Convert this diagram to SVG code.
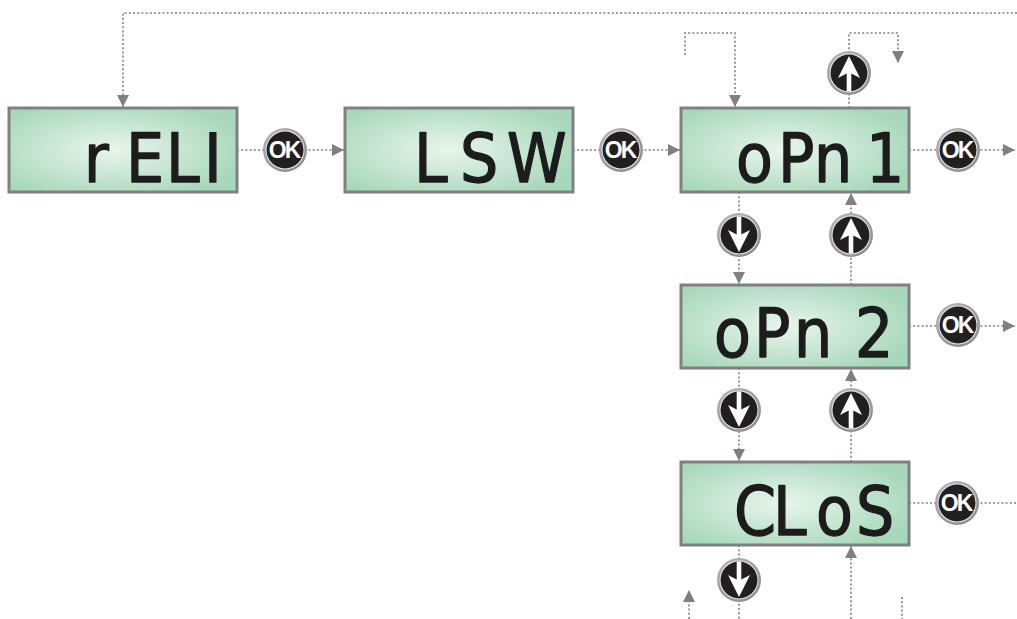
<svg xmlns="http://www.w3.org/2000/svg" xmlns:xlink="http://www.w3.org/1999/xlink" width="1017" height="619" viewBox="0 0 1017 619">
<style>
.lcd{fill:url(#lcdg);stroke:#808080;stroke-width:3}
.seg{font-family:"DejaVu Sans","Liberation Sans",sans-serif;font-stretch:condensed;font-size:67px;fill:#1c1c1c;stroke:#1c1c1c;stroke-width:1.3;stroke-linejoin:round}
.ok{font-family:"Liberation Sans",Arial,sans-serif;font-weight:bold;font-size:23px;fill:#fff;text-anchor:middle;letter-spacing:-2px}
.dl{fill:none;stroke:#808080;stroke-width:1.6;stroke-dasharray:2 2.2}
.ar{fill:#fff}
</style>
<defs>
<radialGradient id="lcdg" cx="0.45" cy="0.5" r="0.6">
<stop offset="0" stop-color="#e9f5ed"/>
<stop offset="1" stop-color="#a8d8bb"/>
</radialGradient>
<radialGradient id="ring" cx="0.4" cy="0.35" r="0.7">
<stop offset="0" stop-color="#cacaca"/>
<stop offset="1" stop-color="#8c8c8c"/>
</radialGradient>
<g id="btn">
<circle r="22" fill="url(#ring)"/>
<circle r="19.4" fill="#ececec"/>
<circle r="18.5" fill="#231f20"/>
</g>
<path id="uparr" d="M0,-17 L11,5 L2.3,0.5 L2.3,18.5 L-2.3,18.5 L-2.3,0.5 L-11,5 Z"/>
<marker id="ah" markerWidth="12" markerHeight="12" viewBox="0 0 12 12" refX="12" refY="6" orient="auto" markerUnits="userSpaceOnUse">
<path d="M0,0 L12,6 L0,12 Z" fill="#808080"/>
</marker>
</defs>
<rect width="1017" height="619" fill="#fff"/>
<g id="connectors">
<path class="dl" d="M1017,13 H123 V107" marker-end="url(#ah)"/>
<path class="dl" d="M237,150 H344" marker-end="url(#ah)"/>
<path class="dl" d="M573,150 H680" marker-end="url(#ah)"/>
<path class="dl" d="M909,150 H1015" marker-end="url(#ah)"/>
<path class="dl" d="M685,55 V33 H735 V107" marker-end="url(#ah)"/>
<path class="dl" d="M849,108 V33 H898 V63" marker-end="url(#ah)"/>
<path class="dl" d="M739,192 V284" marker-end="url(#ah)"/>
<path class="dl" d="M851,285 V193" marker-end="url(#ah)"/>
<path class="dl" d="M739,368 V461" marker-end="url(#ah)"/>
<path class="dl" d="M851,462 V369" marker-end="url(#ah)"/>
<path class="dl" d="M909,326 H1015" marker-end="url(#ah)"/>
<path class="dl" d="M909,503 H1017"/>
<path class="dl" d="M739,545 V619"/>
<path class="dl" d="M851,619 V546" marker-end="url(#ah)"/>
<path class="dl" d="M689,619 V590" marker-end="url(#ah)"/>
<path class="dl" d="M902,597 V619"/>
</g>
<g id="lcd-reli">
<rect class="lcd" x="9" y="108" width="228" height="84"/>
<text class="seg" x="84 126 166 204" y="182">rELI</text>
</g>
<g id="lcd-lsw">
<rect class="lcd" x="345" y="108" width="228" height="84"/>
<text class="seg" x="414 460 507" y="182">LSW</text>
</g>
<g id="lcd-opn1">
<rect class="lcd" x="681" y="108" width="228" height="84"/>
<text class="seg" x="736 778 814 845 866" y="182">oPn 1</text>
</g>
<g id="lcd-opn2">
<rect class="lcd" x="681" y="285" width="228" height="83"/>
<text class="seg" x="714 754 794 830 855" y="357">oPn 2</text>
</g>
<g id="lcd-clos">
<rect class="lcd" x="681" y="462" width="228" height="83"/>
<text class="seg" x="734 773 816 856" y="535">CLoS</text>
</g>
<g id="ok1"><use href="#btn" x="285" y="150"/><text class="ok" x="284" y="158">OK</text></g>
<g id="ok2"><use href="#btn" x="621" y="150"/><text class="ok" x="620" y="158">OK</text></g>
<g id="ok3"><use href="#btn" x="958" y="150"/><text class="ok" x="957" y="158">OK</text></g>
<g id="ok4"><use href="#btn" x="958" y="325"/><text class="ok" x="957" y="333">OK</text></g>
<g id="ok5"><use href="#btn" x="957" y="503"/><text class="ok" x="956" y="511">OK</text></g>
<g id="up-top"><use href="#btn" x="849" y="73"/><use href="#uparr" class="ar" x="849" y="73"/></g>
<g id="down1"><use href="#btn" x="739" y="235"/><g transform="translate(739,235) scale(1,-1)"><use href="#uparr" class="ar"/></g></g>
<g id="up1"><use href="#btn" x="851" y="235"/><use href="#uparr" class="ar" x="851" y="235"/></g>
<g id="down2"><use href="#btn" x="739" y="410"/><g transform="translate(739,410) scale(1,-1)"><use href="#uparr" class="ar"/></g></g>
<g id="up2"><use href="#btn" x="851" y="410"/><use href="#uparr" class="ar" x="851" y="410"/></g>
<g id="down3"><use href="#btn" x="739" y="580"/><g transform="translate(739,580) scale(1,-1)"><use href="#uparr" class="ar"/></g></g>
</svg>
